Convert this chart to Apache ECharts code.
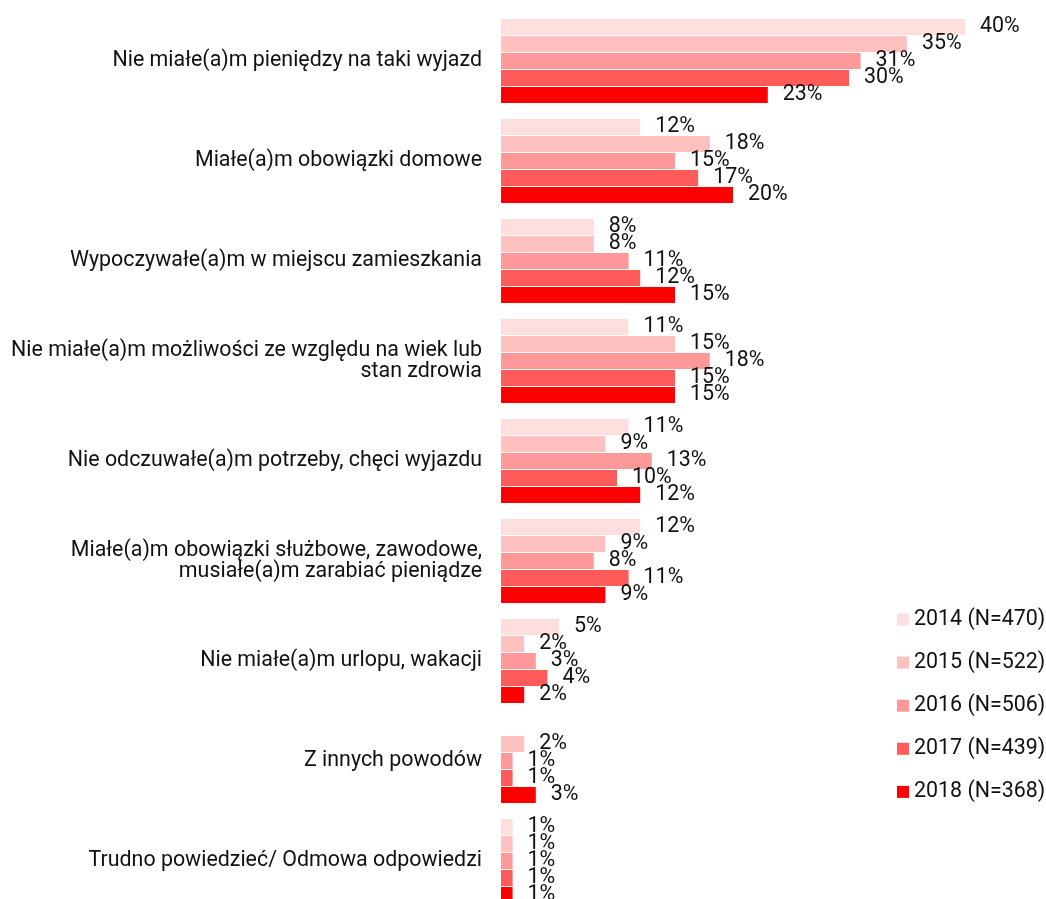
<!DOCTYPE html>
<html>
<head>
<meta charset="UTF-8">
<title>Powody niewyjeżdżania</title>
<script src="https://cdn.jsdelivr.net/npm/echarts@6/dist/echarts.min.js"></script>
<style>
  html, body { margin: 0; padding: 0; background: #fff; }
  #main { width: 1046px; height: 899px; }
</style>
</head>
<body>
<div id="main"></div>
<script>
// kategorie (oś pionowa)
var categories = [
  'Nie miałe(a)m pieniędzy na taki wyjazd',
  'Miałe(a)m obowiązki domowe',
  'Wypoczywałe(a)m w miejscu zamieszkania',
  'Nie miałe(a)m możliwości ze względu na wiek lub\nstan zdrowia',
  'Nie odczuwałe(a)m potrzeby, chęci wyjazdu',
  'Miałe(a)m obowiązki służbowe, zawodowe,\nmusiałe(a)m zarabiać pieniądze',
  'Nie miałe(a)m urlopu, wakacji',
  'Z innych powodów',
  'Trudno powiedzieć/ Odmowa odpowiedzi'
];
var seriesNames = ['2014 (N=470)', '2015 (N=522)', '2016 (N=506)', '2017 (N=439)', '2018 (N=368)'];
var colors = ['#FFDEDE', '#FFC0C0', '#FF9999', '#FF5B5B', '#FF0000'];

// wartości w %
var v2014 = [40, 12, 8, 11, 11, 12, 5, null, 1];
var v2015 = [35, 18, 8, 15, 9, 9, 2, 2, 1];
var v2016 = [31, 15, 11, 18, 13, 8, 3, 1, 1];
var v2017 = [30, 17, 12, 15, 10, 11, 4, 1, 1];
var v2018 = [23, 20, 15, 15, 12, 9, 2, 3, 1];
var values = [v2014, v2015, v2016, v2017, v2018];

var font = 'Roboto, "Noto Sans", sans-serif';
var fs = 21.4;
var chart = echarts.init(document.getElementById('main'));

var series = [];
for (var i = 0; i < seriesNames.length; i++) {
  series.push({
    name: seriesNames[i],
    type: 'bar',
    data: values[i],
    barWidth: 16,
    barGap: '6.25%',
    itemStyle: { color: colors[i] },
    label: {
      show: true,
      position: 'right',
      distance: 15,
      formatter: '{c}%',
      color: '#111',
      fontSize: fs,
      fontFamily: font
    },
    silent: true
  });
}

chart.setOption({
  animation: false,
  color: colors,
  textStyle: { fontFamily: font },
  legend: {
    orient: 'vertical',
    left: 897,
    top: 609,
    padding: 0,
    itemWidth: 12,
    itemHeight: 12,
    itemGap: 22.1,
    icon: 'rect',
    textStyle: { fontSize: fs, color: '#111', fontFamily: font },
    data: seriesNames
  },
  grid: { left: 501, top: 11, width: 464, height: 900, outerBoundsMode: 'none', containLabel: false },
  xAxis: {
    type: 'value',
    min: 0,
    max: 40,
    show: false
  },
  yAxis: {
    type: 'category',
    inverse: true,
    data: categories,
    axisLine: { show: false },
    axisTick: { show: false },
    splitLine: { show: false },
    axisLabel: {
      fontSize: fs,
      lineHeight: 21,
      color: '#111',
      margin: 19,
      fontFamily: font
    }
  },
  series: series
});
</script>
</body>
</html>
